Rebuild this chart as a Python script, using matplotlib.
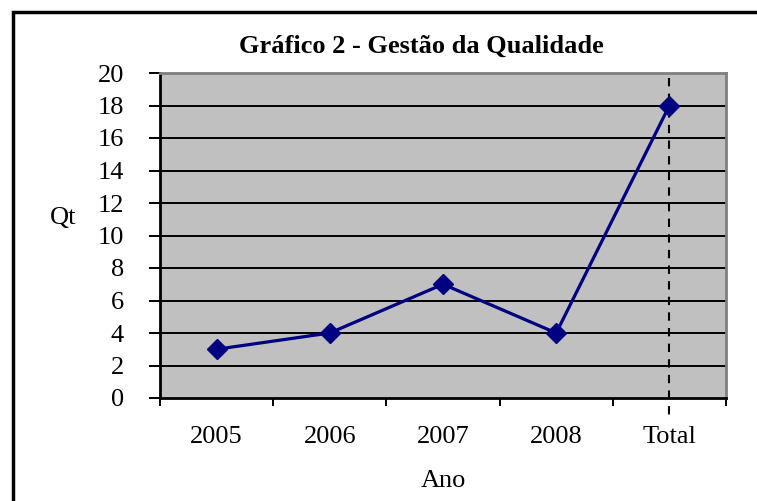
import matplotlib.pyplot as plt
from matplotlib.patches import Rectangle

# data
anos = ['2005', '2006', '2007', '2008', 'Total']
qtd = [3, 4, 7, 4, 18]
y_ticks = list(range(0, 21, 2))

plt.rcParams['font.family'] = ['Liberation Serif', 'DejaVu Serif']

fig = plt.figure(figsize=(7.57, 5.01), dpi=100)
W, H = 757, 501

# black frame around the chart (right/bottom edges run off the image)
fig.patches.append(Rectangle((13 / W, -0.05), 1.1, 1 - 12 / H + 0.05,
                             transform=fig.transFigure, fill=False,
                             edgecolor='black', linewidth=2.5))

ax = fig.add_axes([160 / W, 1 - 398 / H, (726 - 160) / W, (398 - 73) / H])
ax.set_facecolor('#c0c0c0')

x = list(range(len(anos)))
ax.set_xlim(-0.5, len(anos) - 0.5)
ax.set_ylim(0, 20)

for v in y_ticks[1:-1]:
    ax.axhline(v, color='black', linewidth=1.4, zorder=1)

# drop line at Total
ax.plot([x[-1], x[-1]], [19.7, -1.3], color='black', linestyle=(0, (4, 3.5)),
        linewidth=1.5, clip_on=False, zorder=2)

ax.plot(x, qtd, color='#000080', linewidth=2.3, marker='D', markersize=10,
        zorder=3)

fs = 19
ax.set_yticks(y_ticks)
ax.set_yticklabels([str(v) for v in y_ticks], fontsize=fs)
ax.set_xticks([i - 0.5 for i in range(len(anos) + 1)])
ax.set_xticklabels([])
ax.set_xticks(x, minor=True)
ax.set_xticklabels(anos, minor=True, fontsize=fs)
ax.tick_params(axis='x', which='minor', length=0, pad=20)
ax.tick_params(axis='x', which='major', length=6, width=1.4, direction='out')
ax.tick_params(axis='y', length=8, width=1.4, direction='out', pad=18)

for s in ['left', 'bottom']:
    ax.spines[s].set_linewidth(2)
    ax.spines[s].set_color('black')
for s in ['top', 'right']:
    ax.spines[s].set_linewidth(2)
    ax.spines[s].set_color('#808080')

fig.text(421 / W, 1 - 46 / H, 'Gráfico 2 - Gestão da Qualidade',
         ha='center', va='center', fontsize=fs, fontweight='bold')
fig.text(63 / W, 1 - 218 / H, 'Qt', ha='center', va='center', fontsize=fs)
fig.text(443 / W, 1 - 481 / H, 'Ano', ha='center', va='center', fontsize=fs)

fig.savefig('out.png', dpi=100)
